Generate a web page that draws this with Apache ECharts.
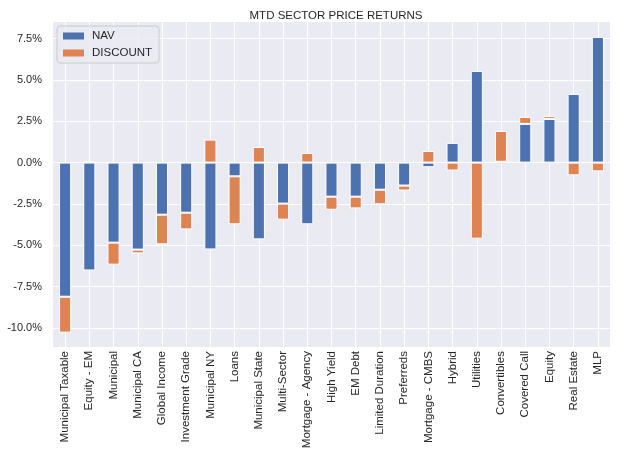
<!DOCTYPE html>
<html>
<head>
<meta charset="utf-8">
<script src="https://cdn.jsdelivr.net/npm/echarts@6/dist/echarts.min.js"></script>
<style>
html,body{margin:0;padding:0;background:#fff;}
#chart{width:622px;height:457px;}
</style>
</head>
<body>
<div id="chart"></div>
<script>
const categories = ["Municipal Taxable","Equity - EM","Municipal","Municipal CA","Global Income","Investment Grade","Municipal NY","Loans","Municipal State","Multi-Sector","Mortgage - Agency","High Yield","EM Debt","Limited Duration","Preferreds","Mortgage - CMBS","Hybrid","Utilities","Convertibles","Covered Call","Equity","Real Estate","MLP"];
const navValues = [-8.11,-6.52,-4.84,-5.26,-3.15,-3.03,-5.25,-0.83,-4.64,-2.48,-3.73,-2.06,-2.06,-1.64,-1.39,-0.28,1.19,5.54,0.05,2.34,2.64,4.15,7.60];
const discountValues = [-2.17,0.10,-1.33,-0.23,-1.79,-1.01,1.39,-2.90,0.94,-0.97,0.58,-0.79,-0.71,-0.88,-0.30,0.70,-0.48,-4.60,1.86,0.42,0.18,-0.77,-0.53];
const yTicks = [-10,-7.5,-5,-2.5,0,2.5,5,7.5];
const seriesNames = ["NAV","DISCOUNT"];

const chart = echarts.init(document.getElementById('chart'), null, {renderer:'canvas'});
const font = 'Liberation Sans, Arial, sans-serif';
const textColor = '#262626';
chart.setOption({
  animation:false,
  backgroundColor:'#ffffff',
  title:{text:'MTD SECTOR PRICE RETURNS', left:331, textAlign:'center', top:5,
    textStyle:{fontFamily:font, fontSize:11.5, fontWeight:'normal', color:textColor}},
  legend:{orient:'vertical', left:57, top:26, data:seriesNames, icon:'rect',
    itemWidth:21, itemHeight:7, itemGap:5, padding:[4,7,4,6],
    backgroundColor:'rgba(234,234,242,0.8)', borderColor:'#cccccc', borderWidth:1, borderRadius:3,
    textStyle:{fontFamily:font, fontSize:11.5, color:textColor, padding:[0,0,0,3]},
    itemStyle:{borderWidth:0}},
  grid:{left:53, right:12, top:22, bottom:110, show:true, backgroundColor:'#EAEAF2', borderWidth:0},
  xAxis:{type:'category', data:categories, boundaryGap:true,
    axisLine:{show:false}, axisTick:{show:false, alignWithLabel:true},
    splitLine:{show:true, alignWithLabel:true, lineStyle:{color:'#ffffff', width:1}},
    axisLabel:{rotate:90, interval:0, fontFamily:font, fontSize:11.5, color:textColor, margin:4}},
  yAxis:{type:'value', min:-11.15, max:8.5,
    axisLine:{show:false},
    axisTick:{show:false, customValues:yTicks},
    splitLine:{show:true, lineStyle:{color:'#ffffff', width:1}},
    axisLabel:{customValues:yTicks, fontFamily:font, fontSize:11, color:textColor, margin:11,
      formatter:v=>v.toFixed(1)+'%'}},
  series:[
    {name:seriesNames[0], type:'bar', stack:'a', data:navValues, barWidth:'50%',
     itemStyle:{color:'#4C72B0', borderColor:'#ffffff', borderWidth:1}},
    {name:seriesNames[1], type:'bar', stack:'a', data:discountValues, barWidth:'50%',
     itemStyle:{color:'#DD8452', borderColor:'#ffffff', borderWidth:1}}
  ]
});
</script>
</body>
</html>
